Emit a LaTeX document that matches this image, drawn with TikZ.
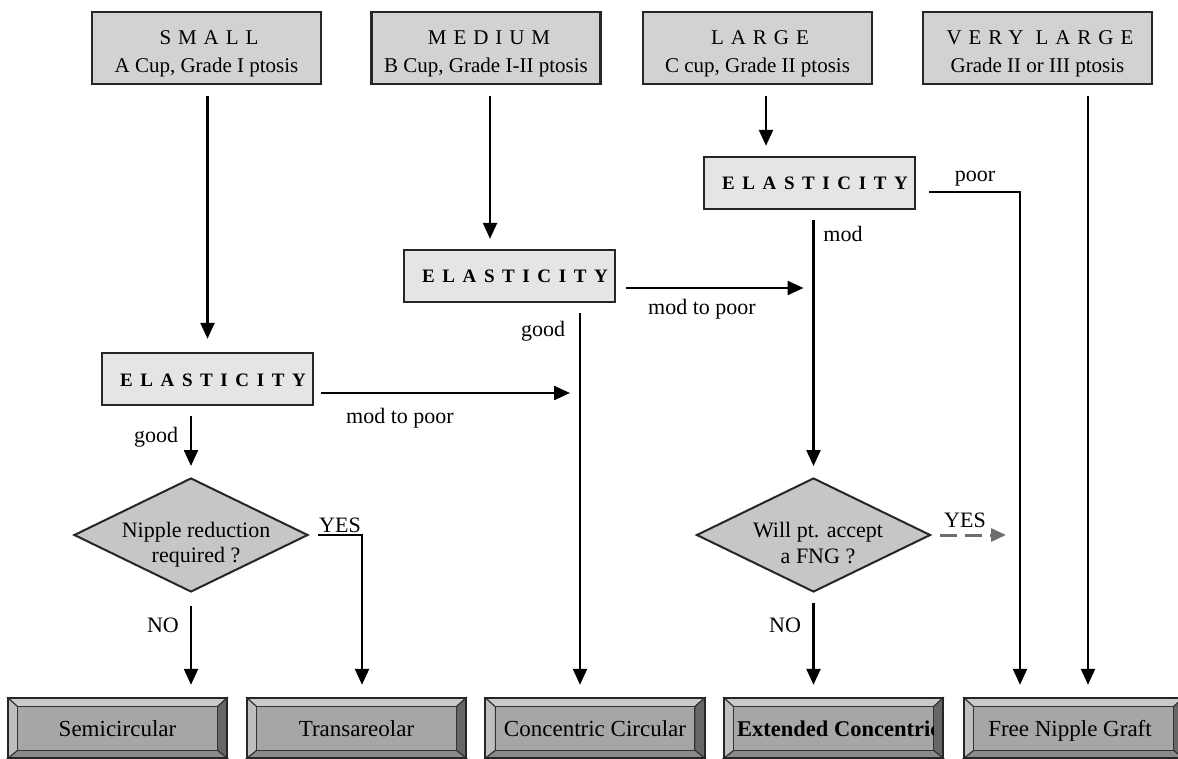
\documentclass[tikz,border=0pt]{standalone}
\usepackage{fontspec}
\setmainfont{Liberation Serif}
\newfontfamily\spcfont[LetterSpace=33]{Liberation Serif}
\newfontfamily\elfont[LetterSpace=40]{Liberation Serif}
\usetikzlibrary{arrows.meta,shapes.geometric}
\newcommand\fsz[1]{\fontsize{#1}{#1}\selectfont}
\definecolor{bevT}{HTML}{CACACA}
\definecolor{bevL}{HTML}{BEBEBE}
\definecolor{bevR}{HTML}{666666}
\definecolor{bevB}{HTML}{8A8A8A}
\definecolor{face}{HTML}{A6A6A6}
\definecolor{dashc}{HTML}{6E6E6E}
\newcommand\bevbox[2]{%
  \node[botbox] (#1) at (#2,728) {};
  \coordinate (#1-a) at ([shift={(10,9)}]#1.north west);
  \coordinate (#1-b) at ([shift={(-10,9)}]#1.north east);
  \coordinate (#1-c) at ([shift={(-10,-8)}]#1.south east);
  \coordinate (#1-d) at ([shift={(10,-8)}]#1.south west);
  \filldraw[fill=bevT, bevline] (#1.north west) -- (#1.north east) -- (#1-b) -- (#1-a) -- cycle;
  \filldraw[fill=bevR, bevline] (#1.north east) -- (#1.south east) -- (#1-c) -- (#1-b) -- cycle;
  \filldraw[fill=bevB, bevline] (#1.south east) -- (#1.south west) -- (#1-d) -- (#1-c) -- cycle;
  \filldraw[fill=bevL, bevline] (#1.south west) -- (#1.north west) -- (#1-a) -- (#1-d) -- cycle;
  \filldraw[fill=face, bevline] (#1-a) rectangle (#1-c);
  \draw[line width=2.2pt, black!85] (#1.north west) rectangle (#1.south east);
}
\begin{document}
\begin{tikzpicture}[x=1pt,y=-1pt,
  topbox/.style={rectangle, draw=black!85, line width=2.4pt, fill=gray!35,
    minimum width=229pt, minimum height=72pt, inner sep=0pt},
  elbox/.style={rectangle, draw=black!85, line width=2.4pt, fill=gray!20,
    minimum width=211pt, minimum height=52pt, inner sep=0pt},
  dia/.style={diamond, draw=black!85, line width=2pt, fill=gray!45,
    minimum width=234pt, minimum height=114pt, inner sep=0pt},
  botbox/.style={rectangle, minimum width=219pt, minimum height=60pt, inner sep=0pt},
  bevline/.style={draw=black!80, line width=1.1pt},
  conn/.style={line width=2.4pt, draw=black},
  arr/.style={conn, -{Triangle[length=16pt,width=14pt]}},
  dasharr/.style={line width=3pt, draw=dashc, dash pattern=on 17pt off 8pt,
    -{Triangle[length=15pt,width=13pt]}},
  lbl/.style={font=\fsz{22}, anchor=base, inner sep=0pt},
  ttl/.style={font=\spcfont\fsz{21}, anchor=base, inner sep=0pt},
  sub/.style={font=\fsz{21}, anchor=base, inner sep=0pt},
  eltxt/.style={font=\elfont\bfseries\fsz{19}, anchor=base, inner sep=0pt},
  btxt/.style={font=\fsz{23}, anchor=base, inner sep=0pt},
]
\useasboundingbox[fill=white] (0,0) rectangle (1178,759);

% top boxes
\node[topbox] (tS) at (206.5,48) {};
\node[topbox] (tM) at (486,48) {};
\node[topbox] (tL) at (757.5,48) {};
\node[topbox] (tV) at (1037.5,48) {};
\node[ttl] at (209,45) {SMALL};
\node[sub] at (206.5,73) {A Cup, Grade I ptosis};
\node[ttl] at (489,45) {MEDIUM};
\node[sub] at (486,73) {B Cup, Grade I-II ptosis};
\node[ttl] at (760,45) {LARGE};
\node[sub] at (757.5,73) {C cup, Grade II ptosis};
\node[ttl] at (1040,45) {VERY LARGE};
\node[sub] at (1037.5,73) {Grade II or III ptosis};

% elasticity boxes
\node[elbox] (eS) at (207.5,379) {};
\node[elbox] (eM) at (509.5,276) {};
\node[elbox] (eL) at (809.5,183) {};
\node[eltxt] at (213,386) {ELASTICITY};
\node[eltxt] at (515,283) {ELASTICITY};
\node[eltxt] at (815,190) {ELASTICITY};

% diamonds
\node[dia] (dS) at (191,535) {};
\node[dia] (dL) at (813.5,535) {};
\node[lbl] at (196,537) {Nipple reduction};
\node[lbl] at (196,562) {required ?};
\node[lbl] at (818,537) {Will pt. accept};
\node[lbl] at (818,563) {a FNG ?};

% bottom boxes
\bevbox{bS}{117.5}
\bevbox{bT}{356.5}
\bevbox{bC}{595}
\bevbox{bE}{833.5}
\bevbox{bF}{1073.5}
\node[btxt] at (117.5,736) {Semicircular};
\node[btxt] at (356.5,736) {Transareolar};
\node[btxt] at (595,736) {Concentric Circular};
\node[btxt] at (1070,736) {Free Nipple Graft};
\begin{scope}
  \clip (bE-a) rectangle (bE-c);
  \node[font=\bfseries\fsz{22.5}, anchor=base west, inner sep=0pt] at (737,736) {Extended Concentric};
\end{scope}

% helper coordinates
\coordinate (mA) at ([xshift=4pt]tM.south);
\coordinate (lA) at ([xshift=8.5pt]tL.south);
\coordinate (vA) at ([xshift=50.5pt]tV.south);
\coordinate (cM) at ([xshift=-15pt]bC.north);
\coordinate (sR) at ([yshift=-14pt]eS.east);
\coordinate (mR) at ([yshift=-12pt]eM.east);
\coordinate (lR) at ([yshift=-9pt]eL.east);
\coordinate (fP) at ([xshift=-53.5pt]bF.north);
\coordinate (tY) at ([xshift=5.5pt]bT.north);

% connectors
\draw[arr, shorten <=11pt, shorten >=13pt] (eS.north |- tS.south) -- (eS.north);
\draw[arr, shorten <=11pt, shorten >=10pt] (mA) -- (mA |- eM.north);
\draw[arr, shorten <=11pt, shorten >=10pt] (lA) -- (lA |- eL.north);
\draw[arr, shorten <=11pt, shorten >=13pt] (vA) -- (vA |- bF.north);

\draw[arr, shorten <=7pt, shorten >=10pt] (sR) -- (sR -| cM);
\draw[arr, shorten <=10pt, shorten >=13pt] (cM |- eM.south) -- (cM);
\draw[arr, shorten <=10pt, shorten >=10pt] (mR) -- (mR -| dL.north);
\draw[arr, shorten <=10pt, shorten >=11pt] (dL.north |- eL.south) -- (dL.north);
\draw[arr, shorten <=13pt, shorten >=13pt] (lR) -| (fP);

\draw[arr, shorten <=10pt, shorten >=11pt] (dS.north |- eS.south) -- (dS.north);
\draw[arr, shorten <=9pt, shorten >=13pt] (dS.east) -| (tY);
\draw[arr, shorten <=13pt, shorten >=13pt] (dS.south) -- (dS.south |- bS.north);
\draw[arr, shorten <=10pt, shorten >=13pt] (dL.south) -- (dL.south |- bE.north);
\draw[dasharr, shorten <=8pt, shorten >=14pt] (dL.east) -- (dL.east -| fP);

% labels
\node[lbl] at (400,423) {mod to poor};
\node[lbl] at (156,442) {good};
\node[lbl] at (340,532) {YES};
\node[lbl] at (163,632) {NO};
\node[lbl] at (702,315) {mod to poor};
\node[lbl] at (543,337) {good};
\node[lbl] at (843,242) {mod};
\node[lbl] at (975,182) {poor};
\node[lbl] at (965,527) {YES};
\node[lbl] at (785,632) {NO};
\end{tikzpicture}
\end{document}
